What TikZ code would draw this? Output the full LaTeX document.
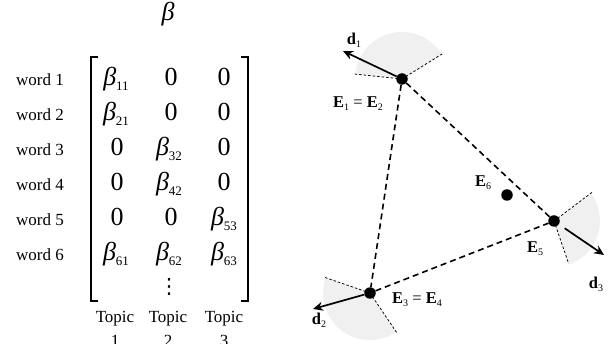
\documentclass[tikz,border=0pt]{standalone}
\usepackage{fontspec}
\setmainfont{Liberation Serif}
\newfontfamily\dejavu{DejaVu Sans}
\usetikzlibrary{arrows.meta}
\newcommand\mybeta[1]{{\itshape β}\raisebox{-5pt}{\fontsize{13}{13}\selectfont #1}}
\newcommand\mysub[2]{\textbf{#1}\raisebox{-3pt}{\fontsize{10}{10}\selectfont #2}}
\begin{document}
\begin{tikzpicture}[x=1pt,y=-1pt,
  entry/.style={anchor=base, font=\fontsize{26}{26}\selectfont, inner sep=0pt},
  word/.style={anchor=base, font=\fontsize{17}{17}\selectfont, inner sep=0pt},
  lab/.style={font=\fontsize{16.5}{16.5}\selectfont, inner sep=0pt},
  dot/.style={circle, fill=black, minimum size=11.5pt, inner sep=0pt},
  conn/.style={dash pattern=on 6pt off 4pt, line width=1.6pt},
  bound/.style={dash pattern=on 2.5pt off 2pt, line width=0.75pt},
  sector/.style={fill=black!6, draw=none},
  dir/.style={-{Stealth[length=10pt,width=9pt]}, line width=1.7pt},
  brk/.style={line width=1.3pt}]
\useasboundingbox (0,0) rectangle (610,344);
\clip (0,0) rectangle (610,344);
\fill[white] (0,0) rectangle (610,344);

% ---------- left panel ----------
\node[anchor=base, font=\fontsize{26}{26}\selectfont\itshape, inner sep=0pt] (title) at (168,21) {β};

\draw[brk] (98,57) -- (91,57) -- (91,301) -- (98,301);
\draw[brk] (241,57) -- (248,57) -- (248,301) -- (241,301);

\node[word] (w1) at (40,86) {word 1};
\node[word] (w2) at (40,121) {word 2};
\node[word] (w3) at (40,156) {word 3};
\node[word] (w4) at (40,191) {word 4};
\node[word] (w5) at (40,226) {word 5};
\node[word] (w6) at (40,261) {word 6};

\node[entry] (m11) at (116,86) {\mybeta{11}};
\node[entry] (m12) at (171,86) {0};
\node[entry] (m13) at (224,86) {0};
\node[entry] (m21) at (116,121) {\mybeta{21}};
\node[entry] (m22) at (171,121) {0};
\node[entry] (m23) at (224,121) {0};
\node[entry] (m31) at (117,156) {0};
\node[entry] (m32) at (169,156) {\mybeta{32}};
\node[entry] (m33) at (224,156) {0};
\node[entry] (m41) at (117,191) {0};
\node[entry] (m42) at (169,191) {\mybeta{42}};
\node[entry] (m43) at (224,191) {0};
\node[entry] (m51) at (117,226) {0};
\node[entry] (m52) at (171,226) {0};
\node[entry] (m53) at (224,226) {\mybeta{53}};
\node[entry] (m61) at (116,261) {\mybeta{61}};
\node[entry] (m62) at (169,261) {\mybeta{62}};
\node[entry] (m63) at (224,261) {\mybeta{63}};
\node[font=\dejavu\fontsize{21}{21}\selectfont, inner sep=0pt] (vd) at (169,287) {⋮};

\node[word] (t1) at (115,323) {Topic};
\node[word] (t2) at (168,323) {Topic};
\node[word] (t3) at (224,323) {Topic};
\node[word] (n1) at (115,346) {1};
\node[word] (n2) at (168,346) {2};
\node[word] (n3) at (224,346) {3};

% ---------- right panel ----------
\coordinate (c1) at (402,79);
\coordinate (c3) at (370,293);
\coordinate (c5) at (554,221);
\coordinate (c6) at (507,195);

\fill[sector] (c1) -- ++(-32:47) arc[start angle=-32, end angle=-174, radius=47] -- cycle;
\fill[sector] (c3) -- ++(-161:47) arc[start angle=-161, end angle=-304, radius=47] -- cycle;
\fill[sector] (c5) -- ++(-37:46) arc[start angle=-37, end angle=71, radius=46] -- cycle;

\draw[bound] (c1) -- ++(-32:49);
\draw[bound] (c1) -- ++(-174:49);
\draw[bound] (c3) -- ++(-161:49);
\draw[bound] (c3) -- ++(56:48);
\draw[bound] (c5) -- ++(-37:49);
\draw[bound] (c5) -- ++(71:45);

\node[dot] (E1) at (c1) {};
\node[dot] (E3) at (c3) {};
\node[dot] (E5) at (c5) {};
\node[dot] (E6) at (c6) {};

\draw[conn] (E1) -- (E3);
\draw[conn] (E1) -- (E5);
\draw[conn] (E3) -- (E5);

\coordinate (d1tip) at (343,51);
\coordinate (d2tip) at (313,309);
\coordinate (d3tip) at (604,255);
\draw[dir] (E1) -- (d1tip);
\draw[dir] (E3) -- (d2tip);
\draw[dir, shorten <=7pt] (E5) -- (d3tip);

\node[lab] (ld1) at (354,40) {\mysub{d}{1}};
\node[lab] (l12) at (358,104) {\mysub{E}{1} = \mysub{E}{2}};
\node[lab] (l6) at (483,183) {\mysub{E}{6}};
\node[lab] (l5) at (535,249) {\mysub{E}{5}};
\node[lab] (ld3) at (596,284) {\mysub{d}{3}};
\node[lab] (l34) at (417,300) {\mysub{E}{3} = \mysub{E}{4}};
\node[lab] (ld2) at (319,320) {\mysub{d}{2}};
\end{tikzpicture}
\end{document}
